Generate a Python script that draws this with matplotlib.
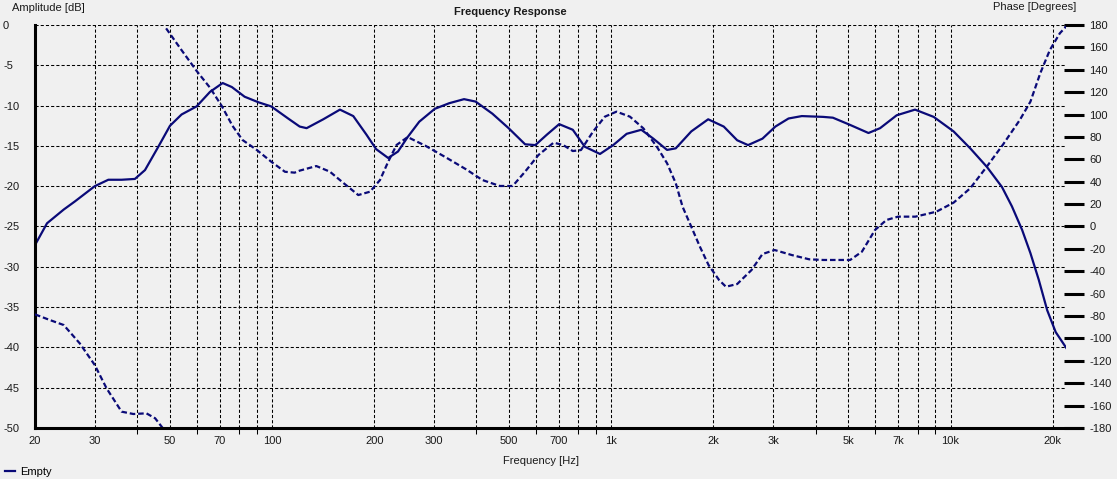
import numpy as np
import matplotlib
matplotlib.use("Agg")
import matplotlib.pyplot as plt
from matplotlib.ticker import NullFormatter
from matplotlib.lines import Line2D

### Data ###
amp_freq = [20, 21.7, 24.3, 26.2, 30, 32.9, 36, 39.4, 42.2, 46.2, 50, 54.1, 59.9,
            65.6, 71.5, 76.1, 83, 91.3, 99.4, 111.5, 120.6, 126.4, 141.5, 158.5,
            173.5, 189.7, 202.6, 219.9, 235, 251, 271.5, 301.7, 333, 368, 398,
            446, 498, 557, 597, 646, 702, 770, 835, 926, 1013, 1110, 1226, 1330,
            1460, 1549, 1721, 1930, 2145, 2350, 2530, 2790, 3046, 3330, 3645,
            4210, 4500, 5060, 5730, 6200, 6940, 7860, 8920, 10210, 11430, 12800,
            14180, 15170, 16250, 17200, 18200, 19280, 20420, 21970]
amp_db = [-27.3, -24.6, -22.9, -21.9, -20.0, -19.2, -19.2, -19.1, -18.0, -15.1,
          -12.5, -11.1, -10.1, -8.3, -7.2, -7.7, -8.9, -9.6, -10.1, -11.6, -12.6,
          -12.8, -11.7, -10.5, -11.3, -13.6, -15.4, -16.5, -15.7, -13.9, -12.0,
          -10.4, -9.7, -9.2, -9.5, -11.0, -12.8, -14.8, -14.9, -13.6, -12.3,
          -13.0, -15.1, -16.0, -14.9, -13.5, -13.0, -14.1, -15.5, -15.3, -13.2,
          -11.7, -12.6, -14.3, -14.9, -14.1, -12.6, -11.6, -11.3, -11.4, -11.5,
          -12.4, -13.4, -12.8, -11.2, -10.5, -11.4, -13.2, -15.3, -17.6, -20.1,
          -22.5, -25.4, -28.3, -31.6, -35.4, -38.1, -40.1]

phase_freq = [20, 22.1, 24.3, 27.1, 30, 32.5, 36, 39, 42.6, 45.2, 47.5, 48.7,
              54.1, 59.9, 65.6, 71.1, 76.4, 81.8, 90.2, 99.4, 109.1, 116.5,
              120.6, 135, 148, 162.7, 179.5, 194.4, 208, 220, 232.7, 251, 284,
              325, 373, 417, 469, 512, 557, 610, 676, 721, 770, 814, 883, 957,
              1036, 1135, 1243, 1362, 1460, 1549, 1622, 1721, 1825, 1935, 2078,
              2177, 2350, 2590, 2790, 3030, 3405, 3830, 4210, 5060, 5480, 5990,
              6470, 7000, 7880, 9080, 10210, 11430, 12800, 14250, 16000, 17200,
              18390, 19630, 21000, 21970]
phase_deg = [-78.5, -83.5, -88, -104.4, -123.7, -144.5, -165.4, -167.5, -166.9,
             -171.3, -179.7, 177, 157.5, 139, 124, 107.5, 90, 77.3, 68.3, 57.9,
             48.9, 48.1, 49.9, 54, 49, 38.6, 28.1, 31.1, 41.5, 58, 72.8, 79.9,
             71.9, 61.8, 51.1, 41.5, 36.2, 36.2, 49, 63.9, 74.9, 72.8, 67.4, 68.3,
             84.7, 98.1, 102.6, 98.1, 87.7, 71.3, 56.5, 38.6, 17.7, -0.2, -18.1,
             -34.4, -47.8, -53.8, -51.4, -38.9, -24.6, -21, -25.5, -29.3, -29.9,
             -29.9, -22.5, -3.1, 5.8, 8.8, 8.8, 13.2, 21.3, 34.1, 53.6, 72.8,
             95.1, 111.5, 136.9, 157.7, 172.6, 179]

freq_ticks = [20, 30, 50, 70, 100, 200, 300, 500, 700, 1000, 2000, 3000, 5000,
              7000, 10000, 20000]
freq_labels = ['20', '30', '50', '70', '100', '200', '300', '500', '700', '1k',
               '2k', '3k', '5k', '7k', '10k', '20k']
freq_minor = [40, 60, 80, 90, 400, 600, 800, 900, 4000, 6000, 8000, 9000]
db_ticks = list(range(-50, 1, 5))
deg_ticks = list(range(-180, 181, 20))
series_name = 'Empty'

### Style ###
W, H = 1117, 479
BG = '#f0f0f0'
NAVY = '#0a0a78'
TXT = '#1a1a1a'
plt.rcParams['font.family'] = ['Liberation Sans', 'DejaVu Sans']
plt.rcParams['font.size'] = 8

fig = plt.figure(figsize=(W / 100, H / 100), dpi=100, facecolor=BG)
# plot box in pixels: left 35, right 1066, top 25, bottom 428
ax = fig.add_axes([35 / W, 1 - 428 / H, (1066 - 35) / W, (428 - 25) / H])
ax.set_facecolor(BG)
ax.set_xscale('log')
ax.set_xlim(20, 21900)
ax.set_ylim(-50, 0)

ax.set_xticks(freq_ticks, freq_labels)
ax.set_xticks(freq_minor, minor=True)
ax.xaxis.set_minor_formatter(NullFormatter())
ax.set_yticks(db_ticks, [str(v) for v in db_ticks])

grid_kw = dict(color='black', linewidth=0.75, linestyle=(0, (3, 2)))
ax.grid(which='both', axis='x', **grid_kw)
ax.grid(which='major', axis='y', **grid_kw)

ax.tick_params(axis='x', which='major', length=0, pad=6, colors=TXT)
ax.tick_params(axis='x', which='minor', length=4, width=0.75, color='black')
ax.tick_params(axis='y', length=0, pad=23, colors=TXT)
for lab in ax.get_yticklabels():
    lab.set_horizontalalignment('left')

for s in ['top', 'right', 'bottom']:
    ax.spines[s].set_visible(False)
ax.spines['left'].set_linewidth(2.2)

amp_line, = ax.plot(amp_freq, amp_db, color=NAVY, lw=1.6)

# phase on the right axis, broken where it wraps around +-180
ax2 = ax.twinx()
ax2.set_ylim(-180, 180)
ax2.set_yticks(deg_ticks, [str(v) for v in deg_ticks])
for s in ['top', 'left', 'bottom', 'right']:
    ax2.spines[s].set_visible(False)
ax2.spines['right'].set_position(('outward', 6))
ax2.tick_params(axis='y', direction='inout', length=14.4, width=2.2,
                pad=3.6, labelcolor=TXT, color='black')

pf = np.array(phase_freq, dtype=float)
ph = np.array(phase_deg, dtype=float)
jumps = np.where(np.abs(np.diff(ph)) > 180)[0] + 1
pf = np.insert(pf, jumps, np.nan)
ph = np.insert(ph, jumps, np.nan)
ax2.plot(pf, ph, color=NAVY, lw=1.6, linestyle=(0, (2.5, 1.3)))

# bottom axis line runs a bit past the plot box, under the phase ticks
fig.add_artist(Line2D([35 / W, 1082 / W], [1 - 428 / H, 1 - 428 / H],
                      transform=fig.transFigure, color='black', lw=2.2))

fig.text(12 / W, 1 - 8 / H, 'Amplitude [dB]', ha='left', va='center', color=TXT)
fig.text(510 / W, 1 - 12 / H, 'Frequency Response', ha='center', va='center',
         weight='bold', color=TXT)
fig.text(1076 / W, 1 - 7 / H, 'Phase [Degrees]', ha='right', va='center', color=TXT)
fig.text(541 / W, 1 - 461 / H, 'Frequency [Hz]', ha='center', va='center', color=TXT)

fig.legend(handles=[amp_line], labels=[series_name], loc='center left',
           bbox_to_anchor=(5 / W, 1 - 472 / H), frameon=False, handlelength=0.9,
           handletextpad=0.45, borderpad=0, borderaxespad=0, fontsize=8)

fig.savefig('out.png', dpi=100, facecolor=BG)
